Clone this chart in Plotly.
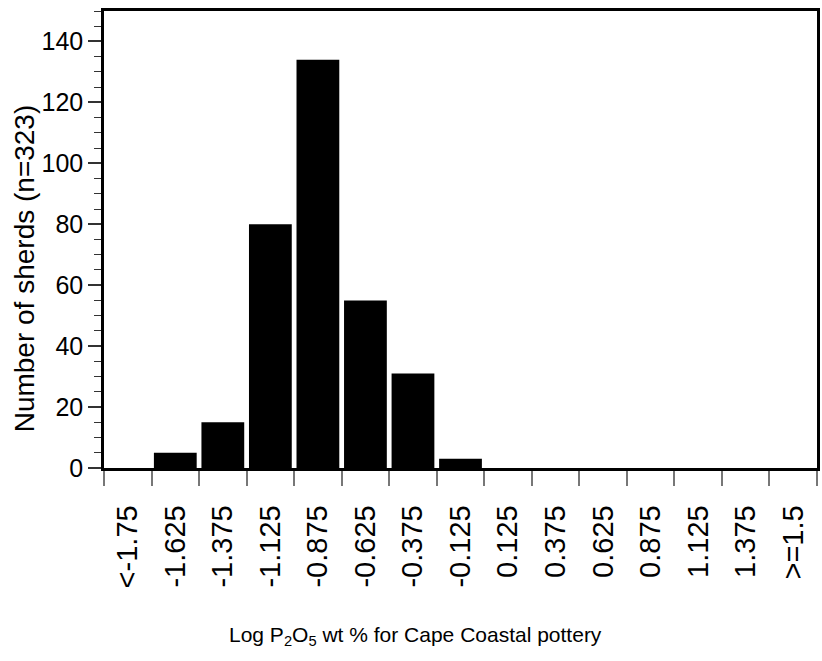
import plotly.graph_objects as go

categories = ["<-1.75", "-1.625", "-1.375", "-1.125", "-0.875", "-0.625", "-0.375",
              "-0.125", "0.125", "0.375", "0.625", "0.875", "1.125", "1.375", ">=1.5"]
counts = [0, 5, 15, 80, 134, 55, 31, 3, 0, 0, 0, 0, 0, 0, 0]

y_title = "Number of sherds (n=323)"
x_title = "Log P<sub>2</sub>O<sub>5</sub> wt % for Cape Coastal pottery"

FONT = "Liberation Sans, Arial, sans-serif"

fig = go.Figure(go.Bar(x=categories, y=counts, marker=dict(color="black", line=dict(width=0))))

W, H = 822, 661
L, R, T, B = 104, 2, 11, 193
pw = W - L - R
ph = H - T - B

fig.update_layout(
    width=W, height=H,
    margin=dict(l=L, r=R, t=T, b=B, pad=0),
    paper_bgcolor="white", plot_bgcolor="white",
    bargap=0.1,
    showlegend=False,
    font=dict(family=FONT, color="black"),
)

fig.update_xaxes(
    type="category",
    tickson="boundaries",
    ticks="outside", ticklen=15, tickwidth=1.5, tickcolor="#777777",
    tickangle=-90,
    ticklabelstandoff=23,
    tickfont=dict(size=29, family=FONT, color="black"),
    showline=True, linecolor="black", linewidth=2.5, mirror=True,
    showgrid=False, zeroline=False,
)

fig.update_yaxes(
    range=[0, 150],
    tick0=0, dtick=20,
    ticks="outside", ticklen=13, tickwidth=1.5, tickcolor="#333333",
    minor=dict(dtick=5, ticks="outside", ticklen=7, tickwidth=1.2, tickcolor="#333333"),
    tickfont=dict(size=25, family=FONT, color="black"),
    showline=True, linecolor="black", linewidth=2.5, mirror=True,
    showgrid=False, zeroline=False,
)

fig.add_annotation(
    text=y_title, textangle=-90, showarrow=False,
    xref="paper", yref="paper",
    x=(24 - L) / pw, y=(H - B - 268) / ph,
    xanchor="center", yanchor="middle",
    font=dict(size=28, family=FONT, color="black"),
)

fig.add_annotation(
    text=x_title, showarrow=False,
    xref="paper", yref="paper",
    x=(417 - L) / pw, y=-(636 - (H - B)) / ph,
    xanchor="center", yanchor="middle",
    font=dict(size=21, family=FONT, color="black"),
)

fig.write_html("out.html")
